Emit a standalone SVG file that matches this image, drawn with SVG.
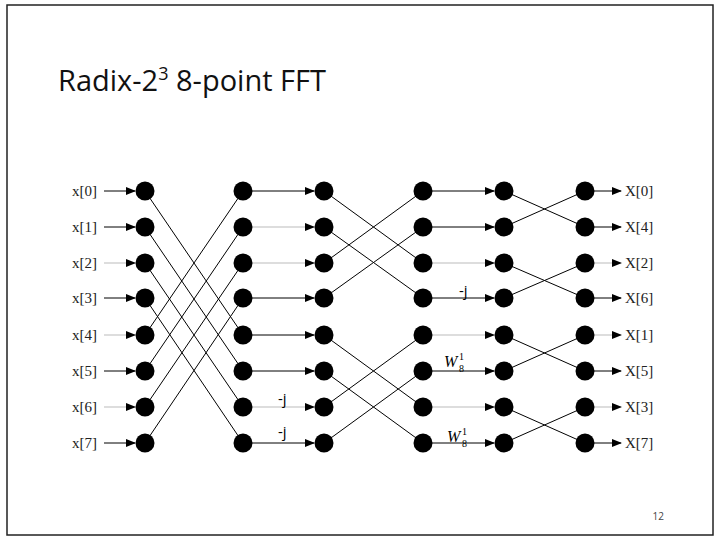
<svg xmlns="http://www.w3.org/2000/svg" width="720" height="540" viewBox="0 0 720 540">
<defs>
<marker id="a" markerWidth="10" markerHeight="8" refX="9" refY="4" orient="auto" markerUnits="userSpaceOnUse"><path d="M0,0 L10,4 L0,8 z" fill="#000"/></marker>
<style>
.n{fill:#000}
.l{stroke:#000;stroke-width:1;fill:none}
.f{stroke:#bbb;stroke-width:1;fill:none}
.t{font-family:"Liberation Serif",serif;font-size:15px;fill:#222}
.s{font-family:"Open Sans","Liberation Sans",sans-serif;font-size:15px;fill:#000}
.w{font-family:"Liberation Serif",serif;font-size:16px;font-style:italic}
.ws{font-family:"Liberation Serif",serif;font-size:10px}
</style>
</defs>
<rect x="0" y="0" width="720" height="540" fill="#fff"/>
<rect x="7" y="5" width="706" height="530" fill="none" stroke="#222" stroke-width="1.5"/>
<text x="58" y="91" font-family="'Open Sans','Liberation Sans',sans-serif" font-size="29" fill="#111">Radix-2<tspan font-size="18" dy="-11">3</tspan><tspan dy="11"> 8-point FFT</tspan></text>
<text x="664" y="520" text-anchor="end" font-family="'Open Sans','Liberation Sans',sans-serif" font-size="10" fill="#444">12</text>
<g id="connectors">
<line class="l" x1="104" y1="191" x2="135" y2="191" marker-end="url(#a)"/>
<line class="l" x1="104" y1="227" x2="135" y2="227" marker-end="url(#a)"/>
<line class="f" x1="104" y1="263" x2="135" y2="263" marker-end="url(#a)"/>
<line class="l" x1="104" y1="298" x2="135" y2="298" marker-end="url(#a)"/>
<line class="f" x1="104" y1="335" x2="135" y2="335" marker-end="url(#a)"/>
<line class="l" x1="104" y1="371" x2="135" y2="371" marker-end="url(#a)"/>
<line class="f" x1="104" y1="407" x2="135" y2="407" marker-end="url(#a)"/>
<line class="l" x1="104" y1="443" x2="135" y2="443" marker-end="url(#a)"/>
<path class="l" d="M145,191L243,335M145,227L243,371M145,263L243,407M145,298L243,443M145,335L243,191M145,371L243,227M145,407L243,263M145,443L243,298"/>
<line class="l" x1="243" y1="191" x2="314" y2="191" marker-end="url(#a)"/>
<line class="f" x1="243" y1="227" x2="314" y2="227" marker-end="url(#a)"/>
<line class="f" x1="243" y1="263" x2="314" y2="263" marker-end="url(#a)"/>
<line class="l" x1="243" y1="298" x2="314" y2="298" marker-end="url(#a)"/>
<line class="l" x1="243" y1="335" x2="314" y2="335" marker-end="url(#a)"/>
<line class="l" x1="243" y1="371" x2="314" y2="371" marker-end="url(#a)"/>
<line class="f" x1="243" y1="407" x2="314" y2="407" marker-end="url(#a)"/>
<line class="l" x1="243" y1="443" x2="314" y2="443" marker-end="url(#a)"/>
<path class="l" d="M324,191L423,263M324,227L423,298M324,263L423,191M324,298L423,227M324,335L423,407M324,371L423,443M324,407L423,335M324,443L423,371"/>
<line class="l" x1="423" y1="191" x2="494" y2="191" marker-end="url(#a)"/>
<line class="l" x1="423" y1="227" x2="494" y2="227" marker-end="url(#a)"/>
<line class="f" x1="423" y1="263" x2="494" y2="263" marker-end="url(#a)"/>
<line class="l" x1="423" y1="298" x2="494" y2="298" marker-end="url(#a)"/>
<line class="f" x1="423" y1="335" x2="494" y2="335" marker-end="url(#a)"/>
<line class="l" x1="423" y1="371" x2="494" y2="371" marker-end="url(#a)"/>
<line class="f" x1="423" y1="407" x2="494" y2="407" marker-end="url(#a)"/>
<line class="l" x1="423" y1="443" x2="494" y2="443" marker-end="url(#a)"/>
<path class="l" d="M504,191L585,227M504,227L585,191M504,263L585,298M504,298L585,263M504,335L585,371M504,371L585,335M504,407L585,443M504,443L585,407"/>
<line class="l" x1="585" y1="191" x2="621" y2="191" marker-end="url(#a)"/>
<line class="l" x1="585" y1="227" x2="621" y2="227" marker-end="url(#a)"/>
<line class="f" x1="585" y1="263" x2="621" y2="263" marker-end="url(#a)"/>
<line class="l" x1="585" y1="298" x2="621" y2="298" marker-end="url(#a)"/>
<line class="f" x1="585" y1="335" x2="621" y2="335" marker-end="url(#a)"/>
<line class="l" x1="585" y1="371" x2="621" y2="371" marker-end="url(#a)"/>
<line class="f" x1="585" y1="407" x2="621" y2="407" marker-end="url(#a)"/>
<line class="l" x1="585" y1="443" x2="621" y2="443" marker-end="url(#a)"/>
</g>
<g id="nodes" class="n">
<g id="c1"><circle cx="145" cy="191" r="9.5"/><circle cx="145" cy="227" r="9.5"/><circle cx="145" cy="263" r="9.5"/><circle cx="145" cy="298" r="9.5"/><circle cx="145" cy="335" r="9.5"/><circle cx="145" cy="371" r="9.5"/><circle cx="145" cy="407" r="9.5"/><circle cx="145" cy="443" r="9.5"/></g>
<g id="c2"><circle cx="243" cy="191" r="9.5"/><circle cx="243" cy="227" r="9.5"/><circle cx="243" cy="263" r="9.5"/><circle cx="243" cy="298" r="9.5"/><circle cx="243" cy="335" r="9.5"/><circle cx="243" cy="371" r="9.5"/><circle cx="243" cy="407" r="9.5"/><circle cx="243" cy="443" r="9.5"/></g>
<g id="c3"><circle cx="324" cy="191" r="9.5"/><circle cx="324" cy="227" r="9.5"/><circle cx="324" cy="263" r="9.5"/><circle cx="324" cy="298" r="9.5"/><circle cx="324" cy="335" r="9.5"/><circle cx="324" cy="371" r="9.5"/><circle cx="324" cy="407" r="9.5"/><circle cx="324" cy="443" r="9.5"/></g>
<g id="c4"><circle cx="423" cy="191" r="9.5"/><circle cx="423" cy="227" r="9.5"/><circle cx="423" cy="263" r="9.5"/><circle cx="423" cy="298" r="9.5"/><circle cx="423" cy="335" r="9.5"/><circle cx="423" cy="371" r="9.5"/><circle cx="423" cy="407" r="9.5"/><circle cx="423" cy="443" r="9.5"/></g>
<g id="c5"><circle cx="504" cy="191" r="9.5"/><circle cx="504" cy="227" r="9.5"/><circle cx="504" cy="263" r="9.5"/><circle cx="504" cy="298" r="9.5"/><circle cx="504" cy="335" r="9.5"/><circle cx="504" cy="371" r="9.5"/><circle cx="504" cy="407" r="9.5"/><circle cx="504" cy="443" r="9.5"/></g>
<g id="c6"><circle cx="585" cy="191" r="9.5"/><circle cx="585" cy="227" r="9.5"/><circle cx="585" cy="263" r="9.5"/><circle cx="585" cy="298" r="9.5"/><circle cx="585" cy="335" r="9.5"/><circle cx="585" cy="371" r="9.5"/><circle cx="585" cy="407" r="9.5"/><circle cx="585" cy="443" r="9.5"/></g>
</g>
<g id="labels">
<text class="t" x="72" y="196">x[0]</text><text class="t" x="72" y="232">x[1]</text><text class="t" x="72" y="268">x[2]</text><text class="t" x="72" y="303">x[3]</text>
<text class="t" x="72" y="340">x[4]</text><text class="t" x="72" y="376">x[5]</text><text class="t" x="72" y="412">x[6]</text><text class="t" x="72" y="448">x[7]</text>
<text class="t" x="625" y="196">X[0]</text><text class="t" x="625" y="232">X[4]</text><text class="t" x="625" y="268">X[2]</text><text class="t" x="625" y="303">X[6]</text>
<text class="t" x="625" y="340">X[1]</text><text class="t" x="625" y="376">X[5]</text><text class="t" x="625" y="412">X[3]</text><text class="t" x="625" y="448">X[7]</text>
<text class="s" x="278" y="404">-j</text><text class="s" x="278" y="437">-j</text><text class="s" x="459" y="296">-j</text>
<text class="w" x="444" y="367">W</text><text class="ws" x="459" y="372">8</text><text class="ws" x="459" y="360">1</text>
<text class="w" x="447" y="442">W</text><text class="ws" x="462" y="447">8</text><text class="ws" x="462" y="435">1</text>
</g>
</svg>
